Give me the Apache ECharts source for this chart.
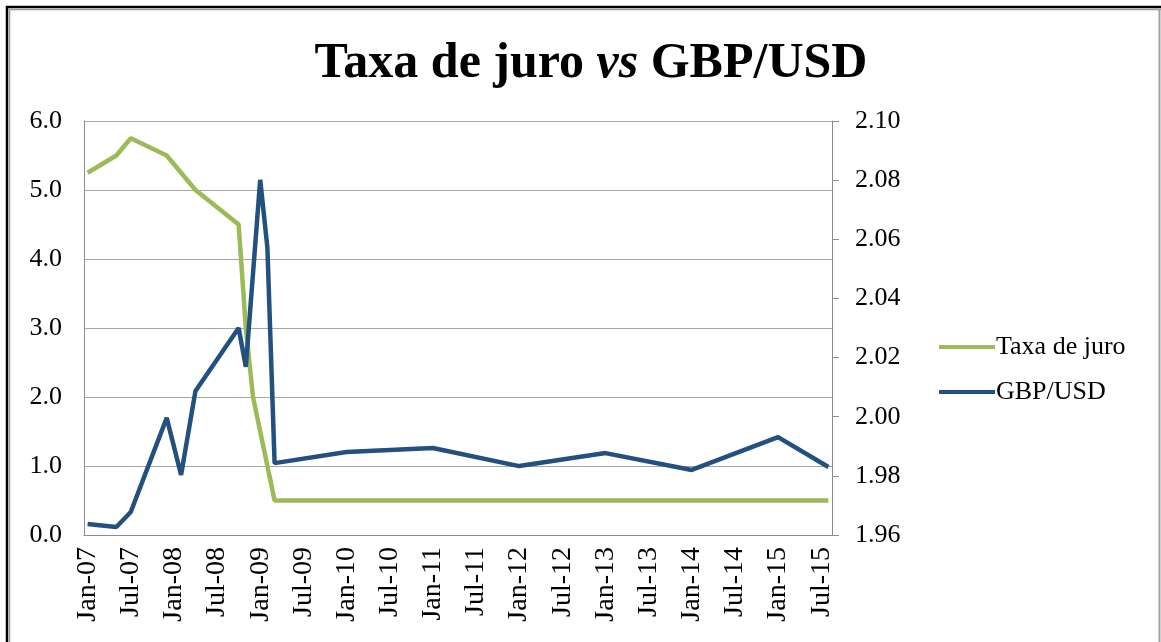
<!doctype html>
<html lang="pt">
  <head>
    <meta charset="UTF-8" />
    <title>Taxa de juro vs GBP/USD</title>
    <script src="https://cdn.jsdelivr.net/npm/echarts/dist/echarts.min.js"></script>
    <style>
      html, body { margin: 0; padding: 0; background: #fff; }
      #main { width: 1161px; height: 642px; }
    </style>
  </head>
  <body>
    <div id="main"></div>
    <script>
      // eixo x: um mês por categoria, Jan-07 a Aug-15
      const monthNames = ["Jan", "Feb", "Mar", "Apr", "May", "Jun", "Jul", "Aug", "Sep", "Oct", "Nov", "Dec"];
      const months = [];
      for (let y = 7; y <= 15; y++) {
        for (let m = 0; m < 12; m++) {
          if (y === 15 && m > 7) break;
          months.push(monthNames[m] + "-" + String(y).padStart(2, "0"));
        }
      }

      // Taxa de juro (%)
      const rateDates = ["Jan-07", "May-07", "Jul-07", "Dec-07", "Feb-08", "Apr-08", "Oct-08", "Nov-08", "Dec-08", "Jan-09", "Feb-09", "Mar-09", "Aug-15"];
      const rateValues = [5.25, 5.5, 5.75, 5.5, 5.25, 5.0, 4.5, 3.0, 2.0, 1.5, 1.0, 0.5, 0.5];

      // GBP/USD
      const fxDates = ["Jan-07", "May-07", "Jul-07", "Dec-07", "Feb-08", "Apr-08", "Oct-08", "Nov-08", "Jan-09", "Feb-09", "Mar-09", "Jan-10", "Jan-11", "Jan-12", "Jan-13", "Jan-14", "Jan-15", "Aug-15"];
      const fxValues = [1.9637, 1.9627, 1.9678, 1.9996, 1.9803, 2.0087, 2.03, 2.0169, 2.0801, 2.0571, 1.9843, 1.9881, 1.9894, 1.9833, 1.9877, 1.982, 1.9931, 1.983];

      const serif = "'Liberation Serif', 'Times New Roman', serif";
      const myChart = echarts.init(document.getElementById("main"));

      const option = {
        animation: false,
        backgroundColor: "#fff",
        title: {
          text: "Taxa de juro {i|vs} GBP/USD",
          left: 586,
          textAlign: "center",
          top: 34,
          textStyle: {
            fontFamily: serif,
            fontSize: 50,
            fontWeight: "bold",
            color: "#000",
            rich: {
              i: { fontFamily: serif, fontSize: 50, fontWeight: "bold", fontStyle: "italic", color: "#000" },
            },
          },
        },
        legend: {
          orient: "vertical",
          left: 934,
          top: 329,
          icon: "rect",
          itemWidth: 56,
          itemHeight: 4,
          itemGap: 19,
          textStyle: { fontFamily: serif, fontSize: 26, color: "#000", padding: [0, 0, 0, -4] },
          data: ["Taxa de juro", "GBP/USD"],
        },
        grid: { left: 84, right: 329, top: 121, bottom: 107 },
        xAxis: {
          type: "category",
          data: months,
          boundaryGap: true,
          axisLine: { lineStyle: { color: "#8c8c8c", width: 1 } },
          axisTick: { show: false },
          axisLabel: {
            interval: 5,
            rotate: 90,
            margin: 12,
            fontFamily: serif,
            fontSize: 28,
            color: "#000",
          },
        },
        yAxis: [
          {
            type: "value",
            min: 0,
            max: 6,
            interval: 1,
            axisLine: { show: true, lineStyle: { color: "#8c8c8c" } },
            axisTick: { show: false },
            splitLine: { lineStyle: { color: "#a6a6a6", width: 1 } },
            axisLabel: {
              margin: 22,
              fontFamily: serif,
              fontSize: 26,
              color: "#000",
              formatter: (v) => v.toFixed(1),
            },
          },
          {
            type: "value",
            min: 1.96,
            max: 2.1,
            interval: 0.02,
            axisLine: { show: true, lineStyle: { color: "#8c8c8c" } },
            axisTick: { show: true, inside: false, length: 7, lineStyle: { color: "#8c8c8c" } },
            splitLine: { show: false },
            axisLabel: {
              margin: 23,
              fontFamily: serif,
              fontSize: 26,
              color: "#000",
              formatter: (v) => v.toFixed(2),
            },
          },
        ],
        series: [
          {
            name: "Taxa de juro",
            type: "line",
            yAxisIndex: 0,
            symbol: "none",
            color: "#9bbb59",
            lineStyle: { width: 4.5, color: "#9bbb59" },
            data: rateDates.map((d, i) => [d, rateValues[i]]),
          },
          {
            name: "GBP/USD",
            type: "line",
            yAxisIndex: 1,
            symbol: "none",
            color: "#23507f",
            lineStyle: { width: 4.5, color: "#23507f" },
            data: fxDates.map((d, i) => [d, fxValues[i]]),
          },
        ],
        graphic: [
          // moldura da imagem
          { type: "polyline", shape: { points: [[7, 642], [7, 7], [1161, 7]] }, style: { stroke: "#000", lineWidth: 2.5, fill: null } },
          { type: "polyline", shape: { points: [[9.5, 642], [9.5, 9.5], [1161, 9.5]] }, style: { stroke: "#9a9a9a", lineWidth: 1.5, fill: null } },
          { type: "line", shape: { x1: 1159.5, y1: 9, x2: 1159.5, y2: 642 }, style: { stroke: "#a0a0a0", lineWidth: 2 } },
        ],
      };

      myChart.setOption(option);
    </script>
  </body>
</html>
